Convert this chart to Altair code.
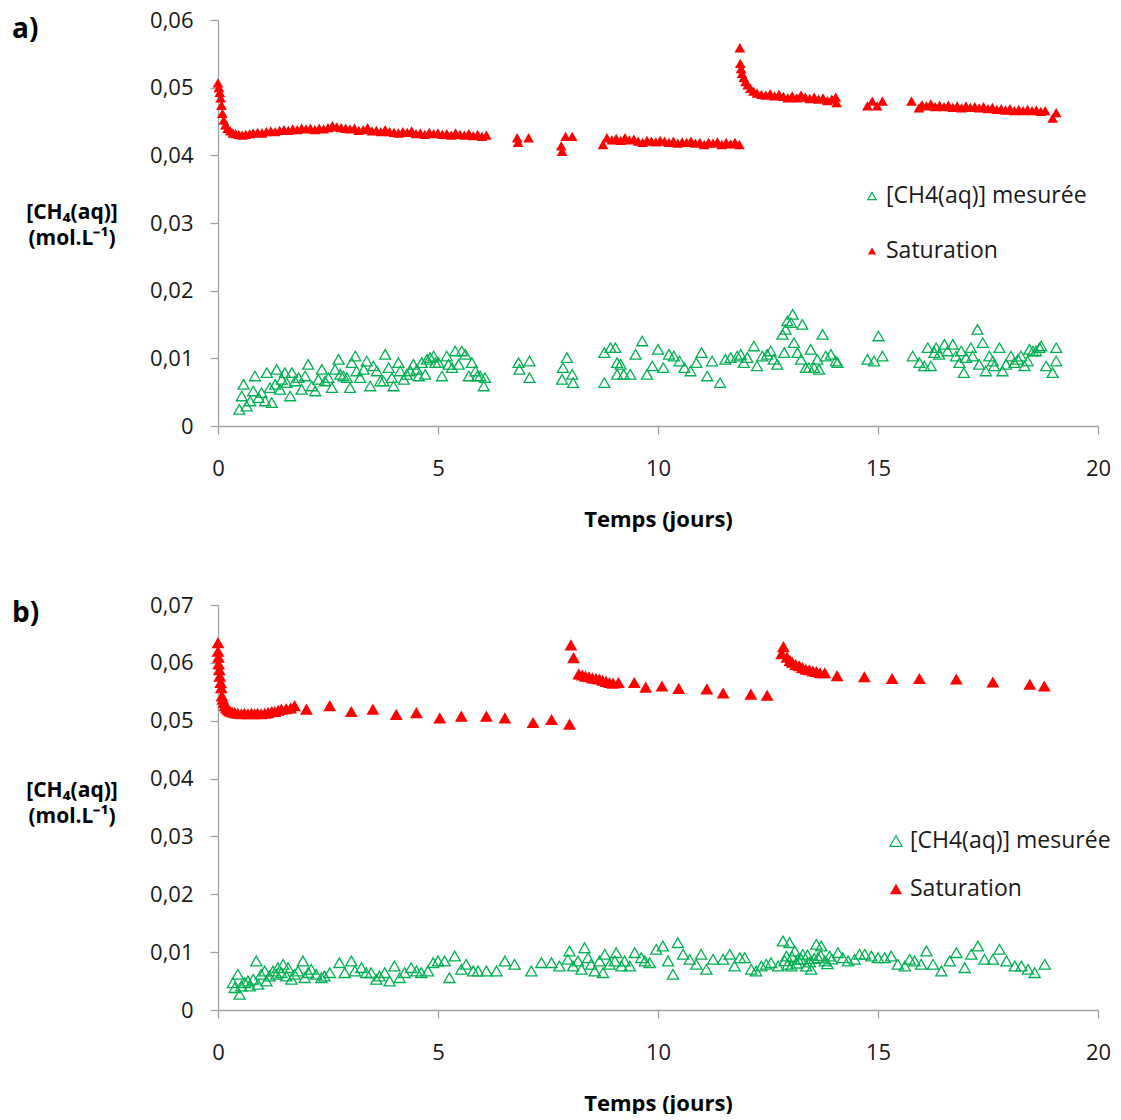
import altair as alt
import pandas as pd

FONT = "Open Sans"
RED = "#ff0000"
GREEN = "#00b050"
AXIS_GRAY = "#a0a0a0"

# ---------------- Panel a) ----------------
a_sat_day = [0.0, 0.02, 0.04, 0.06, 0.08, 0.10, 0.13, 0.17, 0.22, 0.28, 0.34, 0.40, 0.47, 0.55, 0.63, 0.72, 0.80, 0.90,
             1.0, 1.1, 1.2, 1.3, 1.4, 1.5, 1.6, 1.7, 1.8, 1.9, 2.0, 2.1, 2.2, 2.3, 2.4, 2.5, 2.6, 2.7, 2.8, 2.9,
             3.0, 3.1, 3.2, 3.3, 3.4, 3.5, 3.6, 3.7, 3.8, 3.9, 4.0, 4.1, 4.2, 4.3, 4.4, 4.5, 4.6, 4.7, 4.8, 4.9,
             5.0, 5.1, 5.2, 5.3, 5.4, 5.5, 5.6, 5.7, 5.8, 5.9, 6.0, 6.1,
             6.8, 6.82, 7.06, 7.8, 7.82, 7.9, 8.05,
             8.75, 8.84, 8.95, 9.05, 9.15, 9.25, 9.35, 9.45, 9.55, 9.65, 9.75, 9.85, 9.95, 10.05, 10.15, 10.25,
             10.35, 10.45, 10.55, 10.65, 10.75, 10.85, 10.95, 11.05, 11.15, 11.25, 11.35, 11.45, 11.55, 11.65,
             11.75, 11.85,
             11.86, 11.87, 11.89, 11.91, 11.95, 11.99, 12.04, 12.1, 12.17, 12.25, 12.35, 12.45, 12.55, 12.65,
             12.75, 12.85, 12.95, 13.05, 13.15, 13.25, 13.35, 13.45, 13.55, 13.65, 13.75, 13.85, 13.95, 14.04, 14.06,
             14.76, 14.87, 14.98, 15.1,
             15.76, 15.93, 16.0, 16.1, 16.2, 16.3, 16.4, 16.5, 16.6, 16.7, 16.8, 16.9, 17.0, 17.1, 17.2, 17.3,
             17.4, 17.5, 17.6, 17.7, 17.8, 17.9, 18.0, 18.1, 18.2, 18.3, 18.4, 18.5, 18.6, 18.7, 18.8, 18.97, 19.05]
a_sat_val = [0.0507, 0.0500, 0.0493, 0.0485, 0.0474, 0.0462, 0.0452, 0.0445, 0.0440, 0.0436, 0.0433, 0.0432, 0.0431,
             0.0430, 0.0431, 0.0432, 0.0433, 0.0434,
             0.0433, 0.0435, 0.0436, 0.0435, 0.0437, 0.0438, 0.0437, 0.0439, 0.0438, 0.0440, 0.0439, 0.0440, 0.0438,
             0.0440, 0.0439, 0.0441, 0.0444, 0.0442, 0.0441, 0.0440,
             0.0439, 0.0440, 0.0437, 0.0438, 0.0441, 0.0436, 0.0437, 0.0435, 0.0438, 0.0435, 0.0434, 0.0433, 0.0435,
             0.0434, 0.0436, 0.0432, 0.0433, 0.0431, 0.0434, 0.0432,
             0.0433, 0.0431, 0.0432, 0.0430, 0.0433, 0.0431, 0.0430, 0.0432, 0.0429, 0.0431, 0.0428, 0.0430,
             0.0426, 0.0419, 0.0426, 0.0414, 0.0406, 0.0428, 0.0428,
             0.0416, 0.0426, 0.0423, 0.0425, 0.0422, 0.0426, 0.0423, 0.0424, 0.0421, 0.0419, 0.0422, 0.0421, 0.0420,
             0.0422, 0.0421, 0.0419,
             0.0421, 0.0418, 0.0420, 0.0419, 0.0421, 0.0418, 0.0419, 0.0416, 0.0419, 0.0418, 0.0420, 0.0416, 0.0419,
             0.0417, 0.0419, 0.0416,
             0.0559, 0.0536, 0.0528, 0.0521, 0.0515, 0.0509, 0.0504, 0.0499, 0.0495, 0.0492, 0.0490, 0.0489, 0.0491,
             0.0488, 0.0490, 0.0487, 0.0485, 0.0488, 0.0485, 0.0489, 0.0486, 0.0484, 0.0486, 0.0483, 0.0485, 0.0481,
             0.0483, 0.0486, 0.0478,
             0.0473, 0.0480, 0.0473, 0.0480,
             0.0480, 0.0470, 0.0475, 0.0473, 0.0476, 0.0472, 0.0474, 0.0472, 0.0474, 0.0471, 0.0473, 0.0470, 0.0473,
             0.0471, 0.0472, 0.0470, 0.0472, 0.0469, 0.0471, 0.0468, 0.0469, 0.0467, 0.0469, 0.0466, 0.0468, 0.0466,
             0.0468, 0.0466, 0.0467, 0.0465, 0.0466, 0.0455, 0.0463]

a_meas_day = [0.485, 0.54, 0.58, 0.65, 0.73, 0.80, 0.84, 0.92, 0.99, 1.07, 1.11, 1.18, 1.22, 1.30, 1.33, 1.41, 1.45,
              1.52, 1.56, 1.64, 1.68, 1.75, 1.83, 1.90, 1.98, 2.05, 2.13, 2.21, 2.28, 2.36, 2.43, 2.51, 2.59, 2.66,
              2.74, 2.78, 2.85, 2.93, 3.0, 3.04, 3.12, 3.15, 3.23, 3.31, 3.38, 3.46, 3.53, 3.61, 3.69, 3.76, 3.80,
              3.88, 3.95, 3.99, 4.10, 4.14, 4.22, 4.29, 4.37, 4.44, 4.52, 4.56, 4.63, 4.71, 4.75, 4.82, 4.90, 4.94,
              5.01, 5.09, 5.20, 5.24, 5.32, 5.39, 5.47, 5.54, 5.62, 5.70, 5.77, 5.85, 5.89, 5.96, 6.04, 6.07,
              6.83, 6.85, 7.08, 7.08, 7.93, 7.84, 7.82, 8.05, 8.07, 8.78, 8.78, 8.92, 9.03, 9.07, 9.15, 9.07, 9.22,
              9.37, 9.49, 9.64, 9.75, 9.87, 10.0, 10.12, 10.25, 10.36, 10.49, 10.6, 10.74, 10.87, 10.99, 11.12,
              11.23, 11.41, 11.53, 11.65, 11.8, 11.88, 11.95, 12.03, 12.18, 12.25, 12.37, 12.48, 12.56, 12.63, 12.71,
              12.83, 12.9, 12.94, 13.06, 13.02, 13.28, 12.87, 13.09, 13.17, 13.25, 13.36, 13.47, 13.43, 13.55, 13.62,
              13.66, 13.74, 13.81, 13.93, 14.04, 14.08, 14.76, 14.91, 15.01, 15.1, 15.79, 15.94, 16.05, 16.13, 16.2,
              16.28, 16.32, 16.39, 16.51, 16.58, 16.7, 16.77, 16.85, 16.89, 16.95, 17.0, 17.11, 17.15, 17.26, 17.3,
              17.38, 17.45, 17.53, 17.61, 17.64, 17.76, 17.83, 17.91, 18.02, 18.1, 18.18, 18.25, 18.33, 18.4, 18.44,
              18.52, 18.59, 18.67, 18.71, 18.82, 18.97, 19.05, 19.05]
a_meas_val = [0.00246, 0.00443, 0.00615, 0.00295, 0.00369, 0.00517, 0.00739, 0.00418, 0.00492, 0.00369, 0.00788,
              0.00566, 0.00345, 0.00615, 0.00837, 0.00542, 0.00689, 0.00788, 0.0064, 0.00443, 0.00788, 0.00665,
              0.00714, 0.00542, 0.00739, 0.00911, 0.00591, 0.00517, 0.00689, 0.00837, 0.00665, 0.00714, 0.00566,
              0.00837, 0.00985, 0.00763, 0.00739, 0.00714, 0.00566, 0.00936, 0.01034, 0.00813, 0.00714, 0.00837,
              0.0096, 0.00591, 0.00887, 0.00813, 0.00665, 0.00665, 0.01059, 0.00862, 0.00714, 0.00591, 0.00936,
              0.00813, 0.00689, 0.00763, 0.00813, 0.00911, 0.00837, 0.00739, 0.00936, 0.00763, 0.00985, 0.0101,
              0.01034, 0.00936, 0.00936, 0.00739, 0.01034, 0.00911, 0.00862, 0.01108, 0.00911, 0.01108, 0.01059,
              0.00739, 0.00936, 0.00813, 0.00739, 0.00739, 0.00591, 0.00714,
              0.00936, 0.00837, 0.0096, 0.00714, 0.0101, 0.00862, 0.00689, 0.00763, 0.0064, 0.01084, 0.0064, 0.01157,
              0.01157, 0.00936, 0.00911, 0.00763, 0.00763, 0.00763, 0.01059, 0.01256, 0.00763, 0.00887, 0.01133,
              0.00862, 0.01059, 0.01034, 0.0096, 0.00862, 0.00813, 0.00936, 0.01084, 0.00739, 0.0096, 0.0064,
              0.00985, 0.0101, 0.01034, 0.01059, 0.00936, 0.0101, 0.01182, 0.00887, 0.01034, 0.01059, 0.01108,
              0.00985, 0.00911,
              0.01355, 0.01428, 0.01552, 0.0165, 0.01527, 0.01502, 0.01084, 0.01231, 0.01084, 0.00985, 0.00862,
              0.01133, 0.00862, 0.00862, 0.00985, 0.00837, 0.01355, 0.01034, 0.01059, 0.0096, 0.00936, 0.00985,
              0.0096, 0.0133, 0.01034, 0.01034, 0.00936, 0.00887, 0.01157, 0.00887, 0.01084, 0.01157, 0.01059,
              0.01207, 0.01108, 0.01207, 0.01034, 0.00936, 0.01108, 0.00788, 0.0101, 0.01157, 0.01034, 0.01428,
              0.00911, 0.01231, 0.00813, 0.01034, 0.0096, 0.00887, 0.01157, 0.00813, 0.00911, 0.01034, 0.00936,
              0.00985, 0.01034, 0.00887, 0.0096, 0.01133, 0.01108, 0.01108, 0.01157, 0.01182, 0.00887, 0.00788,
              0.01157, 0.0096]

# ---------------- Panel b) ----------------
b_sat_day = [0.0, 0.0, 0.01, 0.015, 0.03, 0.04, 0.06, 0.075, 0.09, 0.11, 0.136, 0.16, 0.19, 0.23, 0.27, 0.32, 0.38,
             0.45, 0.53, 0.6, 0.68, 0.76, 0.83, 0.9, 0.98, 1.06, 1.14, 1.22, 1.29, 1.37, 1.44, 1.55, 1.65, 1.74,
             2.01, 2.54, 3.03, 3.52, 4.05, 4.51, 5.04, 5.53, 6.1, 6.52, 7.16, 7.58, 7.99,
             8.02, 8.08, 8.20, 8.28, 8.35, 8.43, 8.51, 8.59, 8.67, 8.74, 8.82, 8.9, 8.98, 9.10, 9.46, 9.72, 10.09,
             10.47, 11.11, 11.48, 12.11, 12.48,
             12.81, 12.85, 12.93, 13.0, 13.05, 13.13, 13.21, 13.28, 13.36, 13.44, 13.52, 13.6, 13.68, 13.79, 14.07,
             14.69, 15.32, 15.94, 16.78, 17.61, 18.45, 18.78]
b_sat_val = [0.0635, 0.0620, 0.0610, 0.0598, 0.0588, 0.0577, 0.0566, 0.0557, 0.0543, 0.0537, 0.0531, 0.0526, 0.0522,
             0.0519, 0.0517, 0.0515, 0.0514, 0.0513, 0.0512, 0.0513, 0.0512, 0.0513, 0.0512, 0.0513, 0.0512, 0.0513,
             0.0514, 0.0516, 0.0516, 0.0518, 0.0520, 0.0521, 0.0522, 0.0526,
             0.0520, 0.0526, 0.0516, 0.0520, 0.0511, 0.0514, 0.0505, 0.0508, 0.0508, 0.0505, 0.0497, 0.0502, 0.0494,
             0.0631, 0.0609, 0.0581, 0.0579, 0.0577, 0.0576, 0.0574, 0.0573, 0.0572, 0.0570, 0.0568, 0.0566, 0.0565,
             0.0566, 0.0566, 0.0558, 0.0560, 0.0556, 0.0555, 0.0548, 0.0546, 0.0544,
             0.0616, 0.0628, 0.0610, 0.0604, 0.0601, 0.0597, 0.0595, 0.0592, 0.0589, 0.0588, 0.0586, 0.0585, 0.0583,
             0.0583, 0.0578, 0.0576, 0.0573, 0.0573, 0.0572, 0.0567, 0.0563, 0.0560]

b_meas_day = [0.34, 0.38, 0.45, 0.49, 0.53, 0.61, 0.68, 0.72, 0.8, 0.87, 0.91, 0.98, 1.06, 1.1, 1.17, 1.25, 1.33, 1.36,
              1.44, 1.48, 1.55, 1.59, 1.67, 1.74, 1.82, 1.93, 1.97, 2.05, 2.12, 2.23, 2.35, 2.42, 2.54, 2.76, 2.88,
              3.03, 3.11, 3.26, 3.37, 3.48, 3.6, 3.67, 3.79, 3.9, 4.01, 4.13, 4.24, 4.39, 4.51, 4.62, 4.77, 4.89,
              5.0, 5.15, 5.26, 5.38, 5.53, 5.64, 5.8, 5.91, 6.1, 6.33, 6.52, 6.74, 7.12, 7.35, 7.58, 7.76, 7.95,
              7.99, 8.07, 8.18, 8.26, 8.33, 8.41, 8.48, 8.56, 8.67, 8.75, 8.79, 8.9, 9.02, 9.05, 9.17, 9.24, 9.36,
              9.47, 9.62, 9.7,
              9.81, 9.96, 10.11, 10.23, 10.34, 10.45, 10.57, 10.72, 10.87, 10.98, 11.1, 11.25, 11.48, 11.63, 11.74,
              11.86, 11.97, 12.12, 12.23, 12.35, 12.46, 12.57, 12.73, 12.84, 12.92, 12.99, 13.03, 13.11, 13.18,
              13.29, 13.37, 13.48, 13.6, 13.64, 13.71, 13.79, 13.9, 14.09, 14.2, 14.32, 14.47, 14.58, 14.7, 14.85,
              15.0, 15.15, 15.3, 15.45, 15.61, 15.72, 15.83, 15.98, 16.1, 16.25, 16.44, 16.63, 16.78, 16.97, 17.12,
              17.27, 17.42, 17.61, 17.76, 17.92, 18.11, 18.26, 18.41, 18.56, 18.79,
              12.88, 12.95, 13.05, 13.15, 13.25, 13.4, 13.45, 13.55, 13.7, 13.85, 13.95]
b_meas_val = [0.00472, 0.00386, 0.00616, 0.00271, 0.00415, 0.00472, 0.00501, 0.00415, 0.0053, 0.00847, 0.00444,
              0.00616, 0.00674, 0.00501, 0.00588, 0.00674, 0.00616, 0.00732, 0.00645, 0.00789, 0.00588, 0.00732,
              0.0053, 0.00616, 0.00674, 0.00847, 0.00559, 0.00645, 0.00703, 0.00616, 0.00559, 0.00588, 0.00645,
              0.00818, 0.00645, 0.00847, 0.00674, 0.00732, 0.00645, 0.00645, 0.0053, 0.00588, 0.00645, 0.00501,
              0.0076, 0.00559, 0.00645, 0.00732, 0.00674, 0.00645, 0.00674, 0.00818, 0.00847, 0.00847, 0.00559,
              0.00933, 0.00703, 0.00789, 0.00674, 0.00674, 0.00674, 0.00674, 0.00847, 0.00789, 0.00674, 0.00818,
              0.00818, 0.0076, 0.00876, 0.0102, 0.0076, 0.00847, 0.00703, 0.01077, 0.00904, 0.00789, 0.00674,
              0.00847, 0.00645, 0.00962, 0.00789, 0.00847, 0.00991, 0.0076, 0.00847, 0.0076, 0.00991, 0.00904,
              0.00847,
              0.00818, 0.01048, 0.01106, 0.00847, 0.00616, 0.01164, 0.00962, 0.00876, 0.00789, 0.00962, 0.00703,
              0.00876, 0.00876, 0.00962, 0.0076, 0.00904, 0.00904, 0.00703, 0.00674, 0.0076, 0.00789, 0.00818,
              0.0076, 0.01193, 0.00933, 0.01164, 0.0076, 0.0102, 0.00876, 0.00962, 0.0076, 0.00703, 0.01135,
              0.00904, 0.01106, 0.00847, 0.00933, 0.00991, 0.00904, 0.00847, 0.00876, 0.00962, 0.00962, 0.00933,
              0.00904, 0.00904, 0.00933, 0.00789, 0.0076, 0.00876, 0.00847, 0.00789, 0.0102, 0.00789, 0.00674,
              0.00847, 0.00991, 0.00732, 0.00962, 0.01106, 0.00876, 0.00876, 0.01048, 0.00847, 0.0076, 0.0076,
              0.00703, 0.00645, 0.00789,
              0.0085, 0.0079, 0.0092, 0.0081, 0.0088, 0.0095, 0.0083, 0.0089, 0.0094, 0.0080, 0.0088]

x_ticks = [0, 5, 10, 15, 20]
a_y_ticks = [0, 0.01, 0.02, 0.03, 0.04, 0.05, 0.06]
b_y_ticks = [0, 0.01, 0.02, 0.03, 0.04, 0.05, 0.06, 0.07]
legend_labels = ["[CH4(aq)] mesurée", "Saturation"]
ylabel_lines = ["[CH\u2084(aq)]", "(mol.L\u207b\u00b9)"]
x_title = "Temps (jours)"

LABEL_EXPR = "datum.value == 0 ? '0' : replace(format(datum.value, '.2f'), '.', ',')"


def one(text):
    return pd.DataFrame({"s": [text]})


def panel(letter, sat_d, sat_v, meas_d, meas_v, ymax, yticks, h,
          sat_size, meas_size, leg_x, leg_y1, leg_y2, leg_size, letter_y, lab_y1, lab_y2):
    sat = pd.DataFrame({"t": sat_d, "c": sat_v})
    meas = pd.DataFrame({"t": meas_d, "c": meas_v})
    x = alt.X("t:Q", scale=alt.Scale(domain=[0, 20], nice=False, zero=False),
              axis=alt.Axis(values=x_ticks, title=x_title, labelPadding=24, titlePadding=30, labelFlush=False))
    y = alt.Y("c:Q", scale=alt.Scale(domain=[0, ymax], nice=False),
              axis=alt.Axis(values=yticks, labelExpr=LABEL_EXPR, title=None, labelPadding=17))
    meas_layer = alt.Chart(meas).mark_point(
        shape="triangle-up", filled=False, color=GREEN, size=meas_size, strokeWidth=1.3, opacity=1
    ).encode(x=x, y=y)
    sat_layer = alt.Chart(sat).mark_point(
        shape="triangle-up", filled=True, color=RED, size=sat_size, opacity=1
    ).encode(x=x, y=y)

    leg_m = alt.Chart(one(legend_labels[0])).mark_point(
        shape="triangle-up", filled=False, color=GREEN, size=leg_size, strokeWidth=1.2, opacity=1
    ).encode(x=alt.value(leg_x), y=alt.value(leg_y1))
    leg_s = alt.Chart(one(legend_labels[1])).mark_point(
        shape="triangle-up", filled=True, color=RED, size=leg_size, opacity=1
    ).encode(x=alt.value(leg_x), y=alt.value(leg_y2))
    leg_t1 = alt.Chart(one(legend_labels[0])).mark_text(
        font=FONT, fontSize=23, align="left", baseline="middle", color="#1a1a1a"
    ).encode(x=alt.value(leg_x + 14), y=alt.value(leg_y1), text="s:N")
    leg_t2 = alt.Chart(one(legend_labels[1])).mark_text(
        font=FONT, fontSize=23, align="left", baseline="middle", color="#1a1a1a"
    ).encode(x=alt.value(leg_x + 14), y=alt.value(leg_y2), text="s:N")

    let_t = alt.Chart(one(letter)).mark_text(
        font=FONT, fontSize=28, fontWeight="bold", align="left", baseline="middle", color="#000000"
    ).encode(x=alt.value(-206), y=alt.value(letter_y), text="s:N")
    lab1 = alt.Chart(one(ylabel_lines[0])).mark_text(
        font=FONT, fontSize=21, fontWeight="bold", align="center", baseline="middle", color="#000000"
    ).encode(x=alt.value(-146), y=alt.value(lab_y1), text="s:N")
    lab2 = alt.Chart(one(ylabel_lines[1])).mark_text(
        font=FONT, fontSize=21, fontWeight="bold", align="center", baseline="middle", color="#000000"
    ).encode(x=alt.value(-146), y=alt.value(lab_y2), text="s:N")

    return alt.layer(meas_layer, sat_layer, leg_m, leg_s, leg_t1, leg_t2, let_t, lab1, lab2).properties(
        width=880, height=h
    )


pa = panel("a)", a_sat_day, a_sat_val, a_meas_day, a_meas_val, 0.06, a_y_ticks, 406,
           115, 120, 654, 176, 231, 70, 10, 193, 219)
pb = panel("b)", b_sat_day, b_sat_val, b_meas_day, b_meas_val, 0.07, b_y_ticks, 405,
           165, 125, 678, 236, 284, 150, 9, 186, 212)

chart = alt.vconcat(pa, pb, spacing=64).properties(
    padding={"left": 4, "top": 1, "right": 0, "bottom": 0}
).configure_view(stroke=None).configure_axis(
    grid=False, domainColor=AXIS_GRAY, tickColor=AXIS_GRAY, domainWidth=1.3, tickWidth=1.3, tickSize=8,
    labelFont=FONT, labelFontSize=22, labelColor="#1a1a1a",
    titleFont=FONT, titleFontSize=22, titleFontWeight="bold", titleColor="#000000"
)

chart.save("out.html", embed_options={"renderer": "svg", "actions": False})
